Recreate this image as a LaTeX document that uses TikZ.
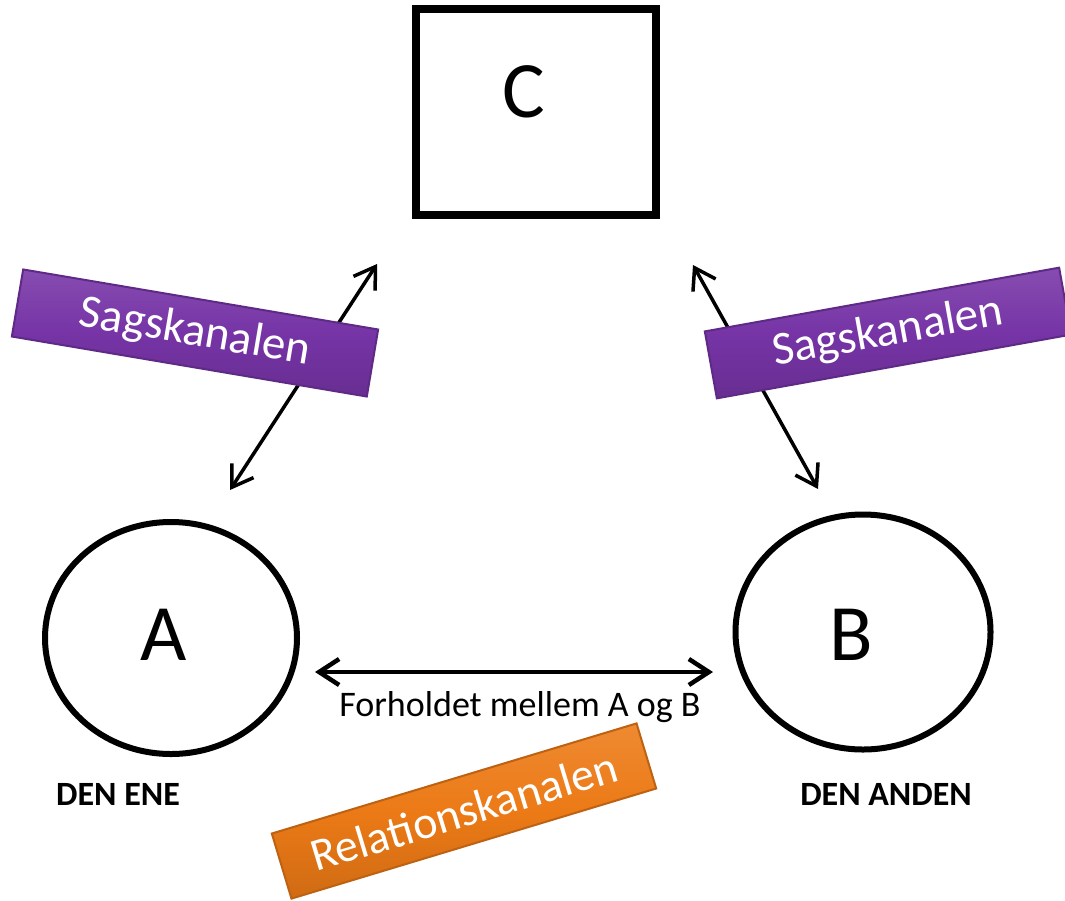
\documentclass[tikz,border=0pt]{standalone}
\usepackage{fontspec}
\setmainfont{Carlito}
\usetikzlibrary{arrows.meta, shapes.geometric}
\definecolor{sagpurple}{RGB}{118,52,166}
\definecolor{relorange}{RGB}{236,122,22}

\begin{document}
\begin{tikzpicture}
                [x=1pt, y=-1pt,
                boxsty/.style={draw, line width=8pt, minimum width=240pt, minimum height=206pt, inner sep=0pt},
                ellsty/.style={ellipse, draw, line width=6pt, minimum width=252pt, minimum height=232pt, inner sep=0pt},
                bigsty/.style={inner sep=0pt, font=\fontsize{80}{80}\selectfont},
                capsty/.style={inner sep=0pt, font=\bfseries\fontsize{34}{34}\selectfont},
                tagsty/.style={rectangle, draw=#1!80!black, line width=2pt, top color=#1!88!white, bottom color=#1!88!black, middle color=#1, text=white, inner sep=0pt, minimum height=68pt, font=\fontsize{47}{47}\selectfont},
                asty/.style={{Straight Barb[length=20pt,width=26pt]}-{Straight Barb[length=20pt,width=26pt]}, line width=3.5pt}]
                \useasboundingbox (0,0) rectangle (1065,900);
                % nodes
                \node[boxsty] (c) at (536,112) {};
                \node[ellsty] (a) at (171,638) {};
                \node[ellsty, minimum width=255pt, minimum height=235pt] (b) at (863,632) {};
                \node[bigsty] (lc) at (524,92)  {C};
                \node[bigsty] (la) at (164,635) {A};
                \node[bigsty] (lb) at (851,635) {B};
                \node[capsty] (ene)   at (118,794) {DEN ENE};
                \node[capsty] (anden) at (886,794) {DEN ANDEN};
                % channels
                \coordinate (sa1) at (230,490);
                \coordinate (sa2) at (377,264);
                \coordinate (sb1) at (693,265);
                \coordinate (sb2) at (818,489);
                \coordinate (ra1) at (315,672);
                \coordinate (ra2) at (713,672);
                \draw[asty] (sa1) -- (sa2);
                \draw[asty] (sb1) -- (sb2);
                \draw[asty, line width=4.5pt] (ra1) -- (ra2);
                \node[font=\fontsize{36}{36}\selectfont, inner sep=0pt] (forh) at (520,707) {Forholdet mellem A og B};
                % tags
                \node[tagsty=sagpurple, rotate=-9.6, minimum width=360pt] (sag1) at (195,333) {Sagskanalen};
                \node[tagsty=sagpurple, rotate=10.2, minimum width=360pt] (sag2) at (888,333) {Sagskanalen};
                \node[tagsty=relorange, rotate=16.8, minimum width=381pt, font=\fontsize{46}{46}\selectfont] (rel) at (464,811) {Relationskanalen};
            \end{tikzpicture}
\end{document}
